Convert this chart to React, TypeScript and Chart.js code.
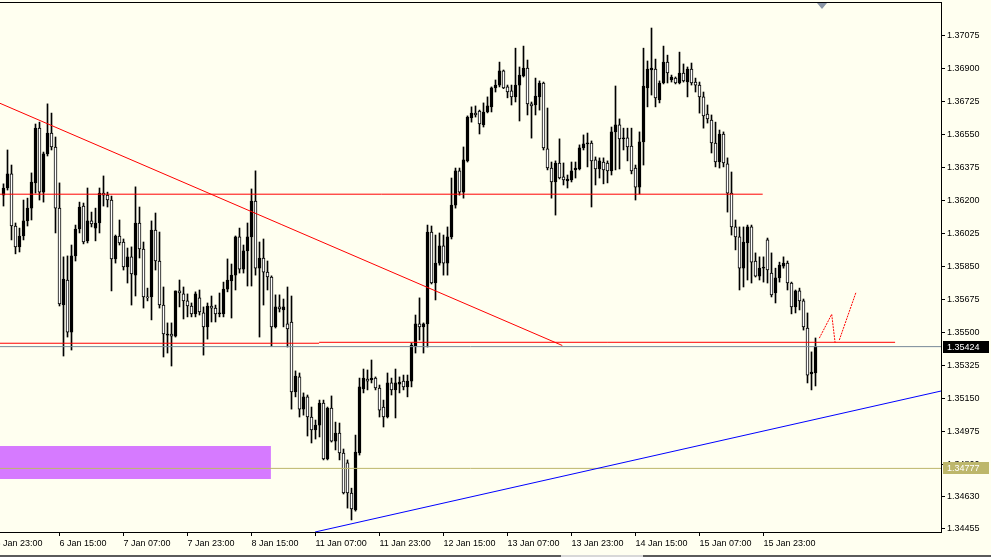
import React, { useEffect, useRef } from "react";
import { Chart, registerables } from "chart.js";

Chart.register(...registerables);

// ---- Candle data (hourly bars) ----
const opens = [
  1.36229, 1.36267, 1.36342, 1.36065, 1.35954, 1.36012, 1.36092, 1.3616, 1.36294, 1.36585,
  1.36245, 1.36448, 1.36559, 1.36485, 1.3616, 1.35645, 1.35778, 1.35501, 1.35906, 1.36049,
  1.36171, 1.35986, 1.36092, 1.36054, 1.36081, 1.3624, 1.36229, 1.36203, 1.3589, 1.36012,
  1.3598, 1.35847, 1.35901, 1.35804, 1.36081, 1.35943, 1.35688, 1.35688, 1.36044, 1.35879,
  1.35645, 1.35485, 1.35491, 1.3548, 1.3572, 1.35704, 1.35667, 1.3564, 1.35598, 1.35683,
  1.35603, 1.35529, 1.3564, 1.35629, 1.35598, 1.35598, 1.3573, 1.35773, 1.35804, 1.36007,
  1.35836, 1.35933, 1.36007, 1.36198, 1.35841, 1.35895, 1.3582, 1.35794, 1.35529, 1.35635,
  1.35619, 1.35545, 1.35555, 1.35183, 1.35263, 1.35092, 1.35157, 1.3505, 1.34981, 1.35007,
  1.35124, 1.34827, 1.35098, 1.34922, 1.34965, 1.34859, 1.34806, 1.34646, 1.34556, 1.34859,
  1.35199, 1.35252, 1.35247, 1.35257, 1.35204, 1.35103, 1.3505, 1.35231, 1.35194, 1.35225,
  1.35241, 1.3521, 1.35241, 1.35427, 1.35545, 1.35529, 1.35545, 1.36033, 1.35762, 1.35868,
  1.35959, 1.35868, 1.36007, 1.36176, 1.36358, 1.36245, 1.36411, 1.36639, 1.36665, 1.36676,
  1.36602, 1.36671, 1.36698, 1.36799, 1.36814, 1.36889, 1.36804, 1.36783, 1.36751, 1.36814,
  1.36862, 1.36904, 1.36714, 1.36708, 1.36751, 1.36825, 1.36475, 1.36373, 1.36299, 1.364,
  1.36326, 1.36304, 1.3631, 1.36363, 1.36368, 1.3648, 1.36501, 1.36506, 1.36416, 1.36368,
  1.36405, 1.364, 1.36358, 1.36565, 1.36602, 1.36528, 1.36533, 1.3649, 1.36373, 1.36272,
  1.36512, 1.36799, 1.36894, 1.36899, 1.36735, 1.36825, 1.36936, 1.36841, 1.36851, 1.36825,
  1.36878, 1.3683, 1.36899, 1.3683, 1.36814, 1.36751, 1.3666, 1.36628, 1.36506, 1.36405,
  1.36554, 1.36395, 1.3624, 1.3606, 1.36007, 1.35841, 1.35975, 1.3606, 1.35879, 1.35799,
  1.35841, 1.35991, 1.35815, 1.35709, 1.35789, 1.35852, 1.35868, 1.35762, 1.35635, 1.3572,
  1.35667, 1.35523, 1.35279, 1.35284,
];
const highs = [
  1.36289, 1.36469, 1.36389, 1.36081, 1.36054, 1.36203, 1.36213, 1.36347, 1.36607, 1.36617,
  1.36458, 1.36714, 1.36665, 1.36538, 1.36294, 1.35901, 1.35906, 1.35964, 1.3607, 1.36192,
  1.36187, 1.36267, 1.36139, 1.3616, 1.36267, 1.36331, 1.36245, 1.36224, 1.36017, 1.36097,
  1.35996, 1.35948, 1.35954, 1.36273, 1.36166, 1.3598, 1.35735, 1.36092, 1.36134, 1.36033,
  1.35741, 1.3555, 1.3555, 1.3572, 1.35778, 1.35741, 1.35704, 1.35656, 1.35715, 1.35725,
  1.35635, 1.35656, 1.35693, 1.35645, 1.35709, 1.35767, 1.3589, 1.35863, 1.36012, 1.36054,
  1.35964, 1.36081, 1.36262, 1.36358, 1.3598, 1.35996, 1.35879, 1.358, 1.35699, 1.35699,
  1.35677, 1.35741, 1.35693, 1.35295, 1.35284, 1.35178, 1.35167, 1.35103, 1.35034, 1.3514,
  1.3514, 1.35103, 1.35162, 1.35023, 1.35018, 1.3488, 1.34822, 1.34672, 1.34954, 1.35257,
  1.35305, 1.353, 1.35353, 1.35263, 1.3522, 1.3514, 1.35284, 1.35257, 1.35305, 1.35263,
  1.35273, 1.35273, 1.35443, 1.35592, 1.35683, 1.3555, 1.3607, 1.36065, 1.36017, 1.36028,
  1.36017, 1.3606, 1.3632, 1.36373, 1.36373, 1.36485, 1.3665, 1.36698, 1.36703, 1.36681,
  1.36719, 1.36751, 1.36804, 1.36841, 1.36936, 1.36894, 1.36814, 1.36814, 1.3701, 1.3691,
  1.37021, 1.36947, 1.36724, 1.36851, 1.36836, 1.3683, 1.36692, 1.36405, 1.36411, 1.36528,
  1.364, 1.36336, 1.36405, 1.36405, 1.36496, 1.36549, 1.36559, 1.36517, 1.36432, 1.36427,
  1.36427, 1.36411, 1.36591, 1.36809, 1.36634, 1.36585, 1.36585, 1.36585, 1.36389, 1.36565,
  1.3701, 1.36942, 1.37117, 1.36952, 1.36836, 1.37021, 1.36973, 1.36867, 1.36857, 1.36989,
  1.36926, 1.3691, 1.36931, 1.36851, 1.3683, 1.36777, 1.36708, 1.36655, 1.36617, 1.36575,
  1.36565, 1.36427, 1.36352, 1.36097, 1.3606, 1.3606, 1.3607, 1.3607, 1.35922, 1.35901,
  1.35901, 1.36001, 1.35922, 1.35841, 1.35873, 1.35901, 1.35879, 1.35767, 1.35725, 1.35735,
  1.35677, 1.35603, 1.35396, 1.3547,
];
const lows = [
  1.36171, 1.36256, 1.35991, 1.35917, 1.35927, 1.35991, 1.36065, 1.36097, 1.3624, 1.36203,
  1.36192, 1.36437, 1.36469, 1.36028, 1.3564, 1.35374, 1.35475, 1.35406, 1.35879, 1.36028,
  1.3597, 1.35975, 1.3606, 1.35986, 1.36028, 1.36171, 1.36166, 1.3572, 1.35868, 1.35964,
  1.35831, 1.35762, 1.35645, 1.35693, 1.35895, 1.35629, 1.35667, 1.35566, 1.35831, 1.35629,
  1.35369, 1.3539, 1.35321, 1.35475, 1.35635, 1.35571, 1.35582, 1.35582, 1.35582, 1.35592,
  1.35379, 1.35464, 1.35555, 1.35555, 1.35582, 1.35582, 1.35715, 1.35576, 1.35725, 1.35815,
  1.35815, 1.35746, 1.35746, 1.35804, 1.35475, 1.35645, 1.35725, 1.35427, 1.35523, 1.35608,
  1.35529, 1.35422, 1.35092, 1.35157, 1.3505, 1.3506, 1.34949, 1.34912, 1.34933, 1.34944,
  1.34822, 1.34822, 1.34917, 1.34875, 1.34822, 1.34641, 1.34566, 1.34503, 1.3455, 1.34848,
  1.35178, 1.35194, 1.35231, 1.35194, 1.3505, 1.34997, 1.35045, 1.35167, 1.35045, 1.35178,
  1.35194, 1.35157, 1.3521, 1.3539, 1.35459, 1.3539, 1.35422, 1.35757, 1.35672, 1.35857,
  1.35804, 1.35804, 1.35996, 1.3616, 1.36229, 1.36213, 1.36405, 1.36617, 1.36644, 1.36554,
  1.36591, 1.36666, 1.36671, 1.36777, 1.36804, 1.36795, 1.36746, 1.36708, 1.36724, 1.36623,
  1.36857, 1.36655, 1.36532, 1.36655, 1.36681, 1.36469, 1.36363, 1.36213, 1.36123, 1.36315,
  1.36283, 1.36267, 1.36299, 1.3632, 1.36363, 1.36469, 1.36379, 1.36166, 1.36283, 1.3632,
  1.36289, 1.36294, 1.36336, 1.36363, 1.36368, 1.36469, 1.36411, 1.36342, 1.36203, 1.36235,
  1.36389, 1.36698, 1.36761, 1.36698, 1.36719, 1.3682, 1.36825, 1.3683, 1.3682, 1.3682,
  1.3683, 1.36751, 1.36814, 1.36777, 1.36665, 1.36585, 1.36612, 1.36453, 1.36379, 1.36373,
  1.36379, 1.36139, 1.36017, 1.35938, 1.35725, 1.35741, 1.35778, 1.35762, 1.35794, 1.35778,
  1.35767, 1.35762, 1.35688, 1.35656, 1.35767, 1.35841, 1.35725, 1.35598, 1.35603, 1.35619,
  1.35512, 1.35231, 1.35194, 1.35215,
];
const closes = [
  1.36267, 1.36342, 1.36065, 1.35954, 1.36012, 1.36092, 1.3616, 1.36299, 1.36585, 1.36245,
  1.36448, 1.36559, 1.36485, 1.3616, 1.35651, 1.35783, 1.35501, 1.35906, 1.36049, 1.36166,
  1.3598, 1.36092, 1.36076, 1.36081, 1.3624, 1.36229, 1.36203, 1.3589, 1.36012, 1.35975,
  1.35847, 1.35901, 1.3581, 1.36081, 1.35943, 1.35688, 1.35683, 1.36044, 1.35879, 1.35645,
  1.35491, 1.35491, 1.3548, 1.3572, 1.35709, 1.35667, 1.3564, 1.35598, 1.35704, 1.35608,
  1.35529, 1.3564, 1.35629, 1.35598, 1.35603, 1.3573, 1.35778, 1.35804, 1.36007, 1.35836,
  1.35933, 1.36007, 1.36198, 1.35841, 1.35895, 1.3582, 1.35794, 1.35529, 1.35635, 1.35624,
  1.35635, 1.35518, 1.35183, 1.35268, 1.35092, 1.35157, 1.3505, 1.34981, 1.35007, 1.35124,
  1.34827, 1.35098, 1.34922, 1.34965, 1.34859, 1.34646, 1.34646, 1.34561, 1.34864, 1.3521,
  1.35257, 1.35241, 1.35257, 1.35204, 1.35087, 1.3505, 1.35231, 1.35194, 1.35231, 1.35236,
  1.3521, 1.35241, 1.35432, 1.35545, 1.35529, 1.35545, 1.36033, 1.35762, 1.35868, 1.35959,
  1.35868, 1.36007, 1.36176, 1.36358, 1.36245, 1.36416, 1.36644, 1.36665, 1.36655, 1.36607,
  1.36671, 1.36703, 1.36799, 1.36814, 1.36889, 1.36799, 1.36777, 1.36751, 1.36814, 1.36867,
  1.36904, 1.36714, 1.36703, 1.36756, 1.36825, 1.3648, 1.36373, 1.36299, 1.364, 1.3632,
  1.3631, 1.36315, 1.36358, 1.36373, 1.3648, 1.36501, 1.36506, 1.36411, 1.36368, 1.36411,
  1.36363, 1.36358, 1.36565, 1.36602, 1.36528, 1.36533, 1.36485, 1.36358, 1.36272, 1.36512,
  1.36809, 1.36899, 1.36904, 1.36746, 1.36825, 1.36936, 1.36878, 1.36857, 1.36825, 1.36878,
  1.36836, 1.36899, 1.36825, 1.36814, 1.36751, 1.3665, 1.36634, 1.36506, 1.36405, 1.36554,
  1.364, 1.3624, 1.3606, 1.36007, 1.35841, 1.3598, 1.3606, 1.35873, 1.35799, 1.35841,
  1.35847, 1.35831, 1.35699, 1.35789, 1.35857, 1.35868, 1.35762, 1.35635, 1.3572, 1.35667,
  1.35529, 1.35273, 1.35289, 1.35424,
];

// ---- Axis ticks ----
const timeTickIndex = [-2, 14, 30, 46, 62, 78, 94, 110, 126, 142, 158, 174, 190];
const timeTickLabels = [
  "5 Jan 23:00", "6 Jan 15:00", "7 Jan 07:00", "7 Jan 23:00", "8 Jan 15:00",
  "11 Jan 07:00", "11 Jan 23:00", "12 Jan 15:00", "13 Jan 07:00", "13 Jan 23:00",
  "14 Jan 15:00", "15 Jan 07:00", "15 Jan 23:00",
];
const priceTickValues = [
  1.37075, 1.369, 1.36725, 1.3655, 1.36375, 1.362, 1.36025, 1.3585,
  1.35675, 1.355, 1.35325, 1.3515, 1.34975, 1.348, 1.3463, 1.34455,
];
const priceTickLabels = [
  "1.37075", "1.36900", "1.36725", "1.36550", "1.36375", "1.36200", "1.36025", "1.35850",
  "1.35675", "1.35500", "1.35325", "1.35150", "1.34975", "1.34800", "1.34630", "1.34455",
];

// ---- Drawn objects (in bar-index / price coordinates) ----
const bidPrice = 1.35424;
const levelPrice = 1.34777;
const descTrend = [{ x: -0.875, y: 1.36717 }, { x: 139.7, y: 1.3543 }];
const upperLevel = [{ x: -0.875, y: 1.36234 }, { x: 189.8, y: 1.36234 }];
const lowerLevelA = [{ x: -0.875, y: 1.35442 }, { x: 78.9, y: 1.35442 }];
const lowerLevelB = [{ x: 78.9, y: 1.35447 }, { x: 222.9, y: 1.35447 }];
const ascTrend = [{ x: 77.9, y: 1.34439 }, { x: 234.375, y: 1.35188 }];
const zigzagA = [{ x: 203.95, y: 1.35469 }, { x: 207.05, y: 1.35596 }, { x: 207.9, y: 1.35445 }];
const zigzagB = [{ x: 208.95, y: 1.35459 }, { x: 213.1, y: 1.35711 }];
const zoneTop = [{ x: -0.875, y: 1.34896 }, { x: 66.85, y: 1.34896 }];
const zoneBottom = [{ x: -0.875, y: 1.3472 }, { x: 66.85, y: 1.3472 }];

const X_MIN = -0.875;
const X_MAX = 234.375;
const Y_MIN = 1.34439;
const Y_MAX = 1.3725;

const FONT = { family: "'Liberation Sans', Arial, sans-serif", size: 9 };
const BG = "#fffff0";

const fullWidth = (v: number) => [{ x: X_MIN, y: v }, { x: X_MAX, y: v }];

const decorPlugin = {
  id: "decor",
  beforeDraw(chart: any) {
    const { ctx, width, height } = chart;
    ctx.save();
    ctx.fillStyle = BG;
    ctx.fillRect(0, 0, width, height);
    ctx.restore();
  },
  afterDraw(chart: any) {
    const { ctx, chartArea, scales } = chart;
    const ys = scales.y;
    const xs = scales.x;
    ctx.save();
    // top frame line
    ctx.strokeStyle = "#000";
    ctx.lineWidth = 1;
    ctx.beginPath();
    ctx.moveTo(0, chartArea.top - 0.5);
    ctx.lineTo(chartArea.right + 1, chartArea.top - 0.5);
    ctx.stroke();

    // chart shift marker
    const mx = Math.round(xs.getPixelForValue(204.6));
    ctx.fillStyle = "#8a96a6";
    ctx.beginPath();
    ctx.moveTo(mx - 5, chartArea.top);
    ctx.lineTo(mx + 5, chartArea.top);
    ctx.lineTo(mx, chartArea.top + 6);
    ctx.closePath();
    ctx.fill();

    // price boxes on the axis
    const box = (val: number, bg: string) => {
      const py = Math.round(ys.getPixelForValue(val));
      ctx.fillStyle = bg;
      ctx.fillRect(chartArea.right + 2, py - 6, 46, 12);
      ctx.fillStyle = "#fff";
      ctx.font = `${FONT.size}px ${FONT.family}`;
      ctx.textBaseline = "middle";
      ctx.textAlign = "left";
      ctx.fillText(val.toFixed(5), chartArea.right + 6, py + 0.5);
    };
    box(bidPrice, "#000000");
    box(levelPrice, "#bdb76b");

    // bottom window edge
    ctx.fillStyle = "#5a5a5a";
    ctx.fillRect(0, 555, 561, 2);
    ctx.fillRect(643, 555, 348, 2);
    ctx.fillStyle = "#d8d8d8";
    ctx.fillRect(561, 555, 82, 2);
    ctx.restore();
  },
};

function lineSet(data: any[], color: string, order: number, extra: any = {}) {
  return {
    type: "line" as const,
    data,
    borderColor: color,
    backgroundColor: color,
    borderWidth: 1,
    pointRadius: 0,
    tension: 0,
    fill: false,
    order,
    ...extra,
  };
}

export default function App() {
  const ref = useRef<HTMLCanvasElement>(null);

  useEffect(() => {
    if (!ref.current) return;
    const wickData = highs.map((h, i) => ({ x: i, y: [lows[i], h] }));
    const bodyData = opens.map((o, i) => ({ x: i, y: [o, closes[i]] }));

    const chart = new Chart(ref.current, {
      type: "bar",
      data: {
        datasets: [
          lineSet(zoneTop, "#d67aff", 20, { fill: "+1", backgroundColor: "#d67aff", borderWidth: 0 }),
          lineSet(zoneBottom, "#d67aff", 21, { borderWidth: 0 }),
          {
            type: "bar" as const,
            data: wickData,
            backgroundColor: "#000",
            borderWidth: 0,
            barThickness: 1,
            grouped: false,
            order: 10,
          },
          {
            type: "bar" as const,
            data: bodyData,
            backgroundColor: (c: any) =>
              closes[c.dataIndex] >= opens[c.dataIndex] ? "#000000" : "#ffffff",
            borderColor: "#000",
            borderWidth: 1,
            borderSkipped: false,
            barThickness: 3,
            minBarLength: 1,
            grouped: false,
            order: 9,
          },
          lineSet(fullWidth(bidPrice), "#778899", 5),
          lineSet(fullWidth(levelPrice), "#bdb76b", 5),
          lineSet(descTrend, "#ff0000", 2),
          lineSet(upperLevel, "#ff0000", 2),
          lineSet(lowerLevelA, "#ff0000", 2),
          lineSet(lowerLevelB, "#ff0000", 2),
          lineSet(ascTrend, "#0000ff", 2),
          lineSet(zigzagA, "#ff0000", 2, { borderDash: [2, 1] }),
          lineSet(zigzagB, "#ff0000", 2, { borderDash: [2, 1] }),
        ] as any,
      },
      options: {
        responsive: false,
        animation: false,
        devicePixelRatio: 1,
        events: [],
        layout: { autoPadding: false, padding: { top: 3, left: 0, right: 0, bottom: 0 } },
        plugins: { legend: { display: false }, tooltip: { enabled: false } },
        scales: {
          x: {
            type: "linear",
            position: "bottom",
            offset: false,
            min: X_MIN,
            max: X_MAX,
            afterBuildTicks: (s: any) => {
              s.ticks = timeTickIndex.map((v) => ({ value: v }));
            },
            afterFit: (s: any) => {
              s.height = 25;
              s.paddingLeft = 0;
              s.paddingRight = 0;
            },
            ticks: {
              autoSkip: false,
              maxRotation: 0,
              minRotation: 0,
              align: "start",
              padding: 2,
              color: "#000",
              font: FONT,
              callback: (_v: any, i: number) => timeTickLabels[i],
            },
            grid: { display: true, offset: false, drawOnChartArea: false, drawTicks: true, tickLength: 4, color: "#000" },
            border: { display: true, color: "#000" },
          },
          y: {
            type: "linear",
            position: "right",
            min: Y_MIN,
            max: Y_MAX,
            afterBuildTicks: (s: any) => {
              s.ticks = priceTickValues.map((v) => ({ value: v }));
            },
            afterFit: (s: any) => {
              s.width = 50;
              s.paddingTop = 0;
              s.paddingBottom = 0;
            },
            ticks: {
              autoSkip: false,
              padding: 2,
              color: "#000",
              font: FONT,
              callback: (_v: any, i: number) => priceTickLabels[i],
            },
            grid: { display: true, drawOnChartArea: false, drawTicks: true, tickLength: 4, color: "#000" },
            border: { display: true, color: "#000" },
          },
        },
      } as any,
      plugins: [decorPlugin],
    });
    return () => chart.destroy();
  }, []);

  return (
    <div style={{ position: "absolute", left: 0, top: 0, width: 991, height: 557, background: BG }}>
      <canvas ref={ref} width={991} height={557} style={{ display: "block", width: 991, height: 557 }} />
    </div>
  );
}
